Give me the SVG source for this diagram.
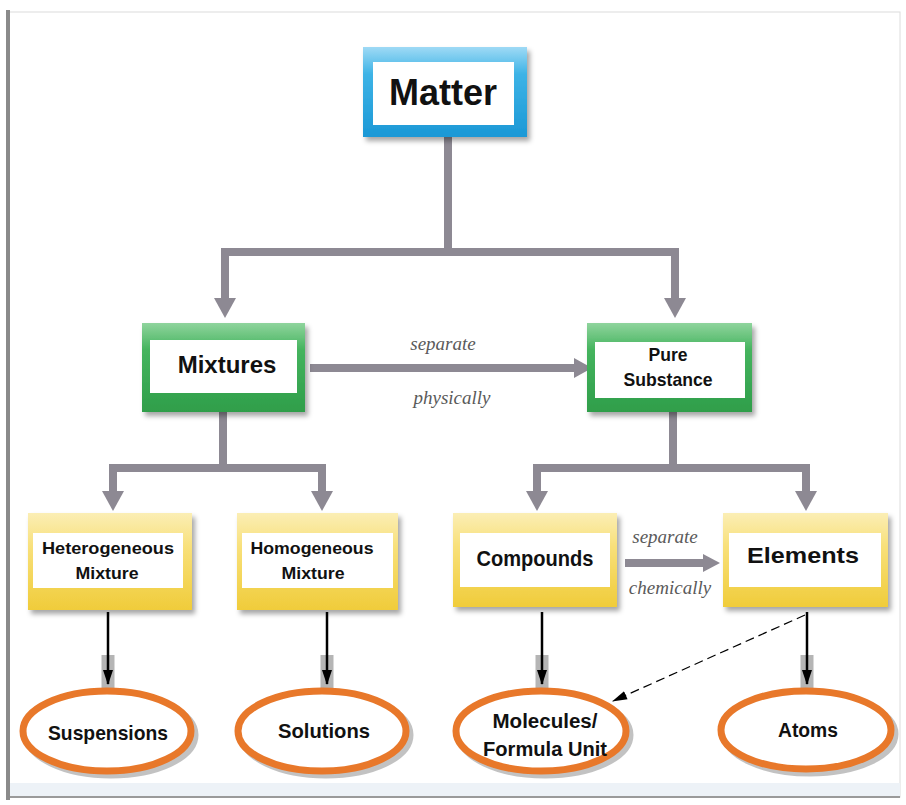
<svg xmlns="http://www.w3.org/2000/svg" width="906" height="805" viewBox="0 0 906 805">
<defs>
<linearGradient id="gBlue" x1="0" y1="0" x2="0" y2="1">
<stop offset="0" stop-color="#9fdaf5"/><stop offset="0.3" stop-color="#3db3e6"/><stop offset="1" stop-color="#1b98d6"/>
</linearGradient>
<linearGradient id="gGreen" x1="0" y1="0" x2="0" y2="1">
<stop offset="0" stop-color="#8fd49d"/><stop offset="0.3" stop-color="#45b45e"/><stop offset="1" stop-color="#2f9e4a"/>
</linearGradient>
<linearGradient id="gYellow" x1="0" y1="0" x2="0" y2="1">
<stop offset="0" stop-color="#fbeeb5"/><stop offset="0.35" stop-color="#f8e07a"/><stop offset="1" stop-color="#f0cc3a"/>
</linearGradient>
<filter id="sh" x="-10%" y="-10%" width="130%" height="140%">
<feDropShadow dx="3" dy="4" stdDeviation="2.5" flood-color="#000" flood-opacity="0.35"/>
</filter>
<marker id="blk" viewBox="0 0 15 10" refX="14" refY="5" markerWidth="6" markerHeight="4" orient="auto" markerUnits="strokeWidth">
<path d="M0,0 L15,5 L0,10 z" fill="#000"/>
</marker>
<marker id="dsh" viewBox="0 0 14 10" refX="13" refY="5" markerWidth="13" markerHeight="9" orient="auto" markerUnits="strokeWidth">
<path d="M0,1 L14,5 L0,9 z" fill="#000"/>
</marker>
</defs>
<style>
.lbl{font-family:"Liberation Sans",Arial,sans-serif;font-weight:bold;fill:#111;text-anchor:middle}
.it{font-family:"Liberation Serif","Times New Roman",serif;font-style:italic;fill:#5a5a5a;text-anchor:middle;font-size:19px}
.gc{stroke:#8d8993;stroke-width:8;fill:none}
.gh{fill:#8d8993}
.inner{fill:#fff}
.ell{fill:#fff;stroke:#e8782a;stroke-width:7}
.ellsh{fill:none;stroke:#9a9a9a;stroke-width:7;opacity:0.6}
.bk{stroke:#000;stroke-width:2.5;fill:none}
.bksh{stroke:#b5b5b5;stroke-width:13;fill:none}
</style>
<rect width="906" height="805" fill="#fff"/>
<g id="frame">
<rect x="9" y="12" width="891" height="785" fill="none" stroke="#dcdcdc" stroke-width="1"/>
<rect x="10" y="783" width="890" height="13" fill="#edf2f7"/>
<line x1="9" y1="797" x2="900" y2="797" stroke="#9a9a9a" stroke-width="2"/>
<rect x="6" y="10" width="4" height="790" fill="#8a8a8a"/>
</g>
<g id="connectors">
<path class="gc" d="M448,137 V252 M221,252 H679 M225,252 V302 M675,252 V302"/>
<polygon class="gh" points="214,298 236,298 225,318"/>
<polygon class="gh" points="664,298 686,298 675,318"/>
<path class="gc" d="M310,368 H578"/>
<polygon class="gh" points="574,358 592,368 574,378"/>
<path class="gc" d="M223,412 V468 M109,468 H326 M113,468 V494 M322,468 V494"/>
<polygon class="gh" points="102,491 124,491 113,511"/>
<polygon class="gh" points="311,491 333,491 322,511"/>
<path class="gc" d="M673,412 V468 M533,468 H810 M537,468 V494 M806,468 V494"/>
<polygon class="gh" points="526,491 548,491 537,511"/>
<polygon class="gh" points="795,491 817,491 806,511"/>
<path d="M625,563 H705" stroke="#8d8993" stroke-width="8" fill="none"/>
<polygon class="gh" points="703,554 720,563 703,572"/>
<path class="bksh" d="M108,655 V690 M327,655 V690 M542,655 V690 M807,655 V690"/>
<line class="bk" x1="108" y1="612" x2="108" y2="684" marker-end="url(#blk)"/>
<line class="bk" x1="327" y1="612" x2="327" y2="684" marker-end="url(#blk)"/>
<line class="bk" x1="542" y1="612" x2="542" y2="684" marker-end="url(#blk)"/>
<line class="bk" x1="807" y1="612" x2="807" y2="684" marker-end="url(#blk)"/>
<line x1="805" y1="615" x2="613" y2="701" stroke="#000" stroke-width="1.2" stroke-dasharray="9,5" marker-end="url(#dsh)"/>
<text class="it" x="443" y="350">separate</text>
<text class="it" x="452" y="404">physically</text>
<text class="it" x="665" y="543">separate</text>
<text class="it" x="670" y="594">chemically</text>
</g>
<g id="matter">
<rect x="363" y="47" width="164" height="90" fill="url(#gBlue)" filter="url(#sh)"/>
<rect class="inner" x="373" y="62" width="141" height="63"/>
<text class="lbl" x="443" y="105" font-size="36">Matter</text>
</g>
<g id="mixtures">
<rect x="142" y="323" width="163" height="89" fill="url(#gGreen)" filter="url(#sh)"/>
<rect class="inner" x="150" y="340" width="147" height="53"/>
<text class="lbl" x="227" y="373" font-size="24">Mixtures</text>
</g>
<g id="pure">
<rect x="587" y="323" width="165" height="89" fill="url(#gGreen)" filter="url(#sh)"/>
<rect class="inner" x="595" y="342" width="150" height="56"/>
<text class="lbl" x="668" y="361" font-size="19" textLength="39" lengthAdjust="spacingAndGlyphs">Pure</text>
<text class="lbl" x="668" y="386" font-size="19" textLength="89" lengthAdjust="spacingAndGlyphs">Substance</text>
</g>
<g id="hetero">
<rect x="28" y="513" width="164" height="97" fill="url(#gYellow)" filter="url(#sh)"/>
<rect class="inner" x="33" y="533" width="150" height="55"/>
<text class="lbl" x="108" y="554" font-size="16.5" textLength="132" lengthAdjust="spacingAndGlyphs">Heterogeneous</text>
<text class="lbl" x="107" y="579" font-size="16.5" textLength="63" lengthAdjust="spacingAndGlyphs">Mixture</text>
</g>
<g id="homo">
<rect x="237" y="513" width="161" height="97" fill="url(#gYellow)" filter="url(#sh)"/>
<rect class="inner" x="242" y="533" width="151" height="55"/>
<text class="lbl" x="312" y="554" font-size="16.5" textLength="123" lengthAdjust="spacingAndGlyphs">Homogeneous</text>
<text class="lbl" x="313" y="579" font-size="16.5" textLength="63" lengthAdjust="spacingAndGlyphs">Mixture</text>
</g>
<g id="compounds">
<rect x="453" y="513" width="164" height="94" fill="url(#gYellow)" filter="url(#sh)"/>
<rect class="inner" x="460" y="533" width="150" height="54"/>
<text class="lbl" x="535" y="566" font-size="22" textLength="117" lengthAdjust="spacingAndGlyphs">Compounds</text>
</g>
<g id="elements">
<rect x="723" y="513" width="165" height="94" fill="url(#gYellow)" filter="url(#sh)"/>
<rect class="inner" x="729" y="533" width="152" height="54"/>
<text class="lbl" x="803" y="563" font-size="22" textLength="112" lengthAdjust="spacingAndGlyphs">Elements</text>
</g>
<g id="suspensions">
<ellipse class="ellsh" cx="111" cy="735" rx="84" ry="40"/>
<ellipse class="ell" cx="107" cy="731" rx="84" ry="40"/>
<text class="lbl" x="108" y="740" font-size="21" textLength="120" lengthAdjust="spacingAndGlyphs">Suspensions</text>
</g>
<g id="solutions">
<ellipse class="ellsh" cx="326" cy="735" rx="84" ry="40"/>
<ellipse class="ell" cx="322" cy="731" rx="84" ry="40"/>
<text class="lbl" x="324" y="738" font-size="21" textLength="92" lengthAdjust="spacingAndGlyphs">Solutions</text>
</g>
<g id="molecules">
<ellipse class="ellsh" cx="545" cy="735" rx="85" ry="40"/>
<ellipse class="ell" cx="541" cy="731" rx="85" ry="40"/>
<text class="lbl" x="545" y="728" font-size="20" textLength="105" lengthAdjust="spacingAndGlyphs">Molecules/</text>
<text class="lbl" x="545" y="756" font-size="20" textLength="124" lengthAdjust="spacingAndGlyphs">Formula Unit</text>
</g>
<g id="atoms">
<ellipse class="ellsh" cx="810" cy="734" rx="85" ry="39"/>
<ellipse class="ell" cx="806" cy="730" rx="85" ry="39"/>
<text class="lbl" x="808" y="737" font-size="20" textLength="60" lengthAdjust="spacingAndGlyphs">Atoms</text>
</g>
</svg>
